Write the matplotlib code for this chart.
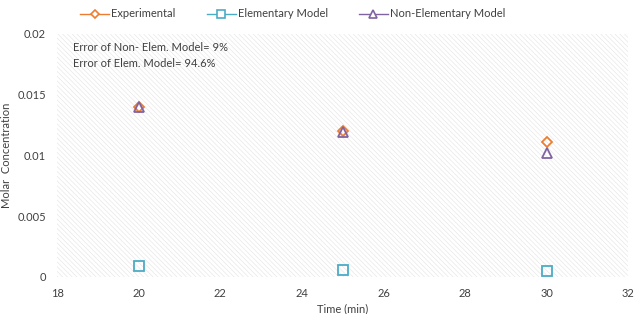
import matplotlib.pyplot as plt
from matplotlib.patches import Rectangle
from matplotlib.lines import Line2D

plt.rcParams['font.family'] = ['Lato', 'DejaVu Sans']
plt.rcParams['hatch.color'] = '#e6e6e6'
plt.rcParams['hatch.linewidth'] = 0.45

time = [20, 25, 30]
experimental = [0.0140, 0.0120, 0.0111]
elementary = [0.0009, 0.0006, 0.0005]
non_elementary = [0.0140, 0.0119, 0.0102]
series_names = ['Experimental', 'Elementary Model', 'Non-Elementary Model']
notes = ['Error of Non- Elem. Model= 9%', 'Error of Elem. Model= 94.6%']

c_exp = '#ED7D31'
c_elem = '#4BACC6'
c_non = '#8064A2'
txt = '#404040'
fs = 8

fig = plt.figure(figsize=(6.37, 3.14), dpi=100)
ax = fig.add_axes([0.0895, 0.118, 0.897, 0.774])

# hatched plot area like the excel chart
ax.add_patch(Rectangle((0, 0), 1, 1, transform=ax.transAxes, facecolor='white',
                       hatch='\\\\\\\\\\\\\\', edgecolor='#e6e6e6', linewidth=0, zorder=0))

ax.plot(time, experimental, linestyle='none', marker='D', markersize=5,
        markerfacecolor='none', markeredgecolor=c_exp, markeredgewidth=1.3, zorder=3)
ax.plot(time, elementary, linestyle='none', marker='s', markersize=6.5,
        markerfacecolor='none', markeredgecolor=c_elem, markeredgewidth=1.3, zorder=3)
ax.plot(time, non_elementary, linestyle='none', marker='^', markersize=7,
        markerfacecolor='none', markeredgecolor=c_non, markeredgewidth=1.3, zorder=4)

ax.set_xlim(18, 32)
ax.set_ylim(0, 0.02)
ax.set_xticks(range(18, 33, 2))
ax.set_yticks([0, 0.005, 0.01, 0.015, 0.02])
ax.set_yticklabels(['0', '0.005', '0.01', '0.015', '0.02'])
ax.tick_params(length=0, labelsize=fs, colors=txt, pad=8)
for s in ax.spines.values():
    s.set_visible(False)

ax.set_xlabel('Time (min)', fontsize=fs, color=txt, labelpad=3)
ax.set_ylabel('Molar  Concentration', fontsize=fs, color=txt, labelpad=4)

ax.text(0.028, 0.965, notes[0] + '\n' + notes[1], transform=ax.transAxes,
        fontsize=fs, color=txt, va='top', linespacing=1.55)

handles = [
    Line2D([], [], color=c_exp, marker='D', markersize=4.5, markerfacecolor='white',
           markeredgewidth=1.2, linewidth=1),
    Line2D([], [], color=c_elem, marker='s', markersize=5.5, markerfacecolor='white',
           markeredgewidth=1.2, linewidth=1),
    Line2D([], [], color=c_non, marker='^', markersize=5.5, markerfacecolor='white',
           markeredgewidth=1.2, linewidth=1),
]
fig.legend(handles, series_names, loc='upper left', bbox_to_anchor=(0.11, 1.005),
           ncol=3, frameon=False, fontsize=fs, handlelength=2.6, columnspacing=2.8,
           labelcolor=txt, handletextpad=0.2)

fig.savefig('out.png', dpi=100)
